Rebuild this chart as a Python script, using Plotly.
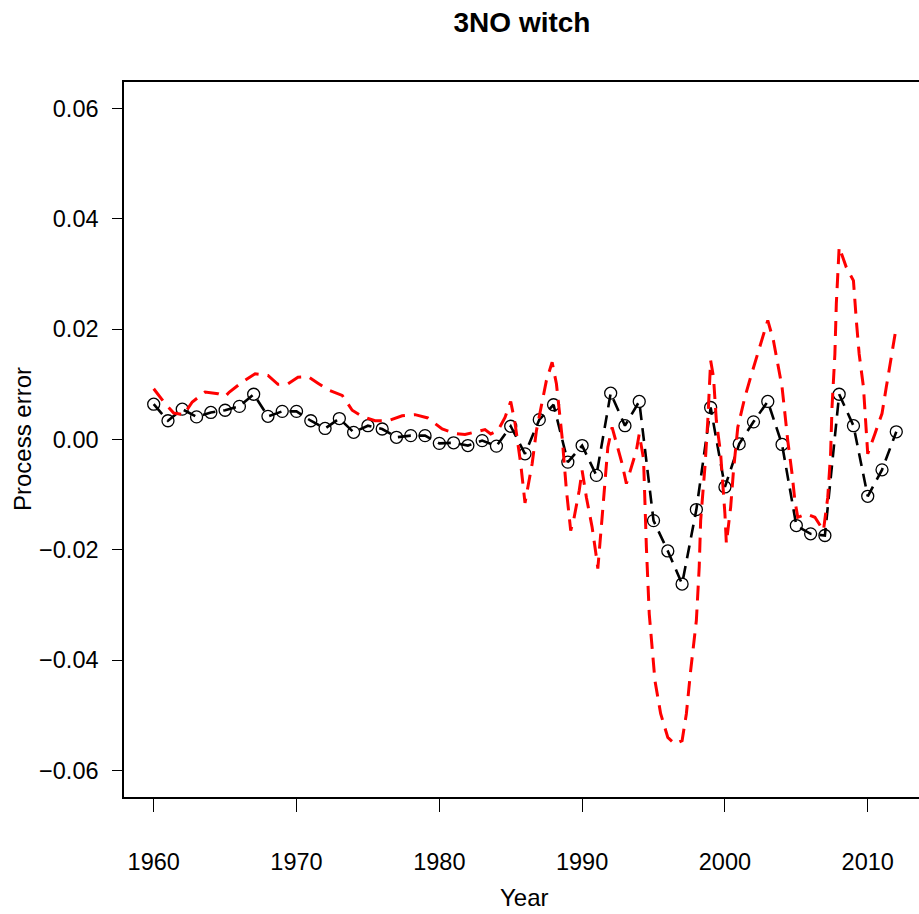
import plotly.graph_objects as go

# Annual process-error estimates (black, with points)
years = list(range(1960, 2013))
annual_error = [
    0.0064, 0.0034, 0.0055, 0.0041, 0.0049, 0.0053, 0.0060, 0.0082, 0.0042, 0.0051,
    0.0051, 0.0034, 0.0020, 0.0038, 0.0013, 0.0025, 0.0019, 0.0004, 0.0007, 0.0007,
    -0.0007, -0.0006, -0.0011, -0.0002, -0.0012, 0.0024, -0.0026, 0.0036, 0.0063, -0.0041,
    -0.0011, -0.0065, 0.0084, 0.0025, 0.0069, -0.0147, -0.0202, -0.0262, -0.0127, 0.0058,
    -0.0086, -0.0008, 0.0032, 0.0069, -0.0009, -0.0156, -0.0171, -0.0174, 0.0082, 0.0025,
    -0.0103, -0.0055, 0.0014,
]

# Finer-resolution process error (red dashed curve)
fine_time = [
    1960.0, 1960.8, 1961.4, 1962.1, 1962.7, 1963.6, 1964.5, 1965.0, 1965.3, 1966.2,
    1967.1, 1968.0, 1968.7, 1969.4, 1970.1, 1970.8, 1971.5, 1972.2, 1973.2, 1973.9,
    1974.6, 1975.5, 1976.4, 1977.4, 1978.3, 1979.2, 1980.2, 1981.1, 1981.8, 1982.5,
    1983.2, 1983.6, 1984.1, 1984.6, 1985.0, 1985.3, 1985.7, 1986.0, 1986.5, 1986.8,
    1987.2, 1987.5, 1987.9, 1988.2, 1988.6, 1988.9, 1989.2, 1989.4, 1989.8, 1990.0,
    1990.3, 1990.7, 1991.0, 1991.1, 1991.4, 1991.6, 1991.8, 1992.1, 1992.4, 1992.8,
    1993.1, 1993.5, 1993.8, 1994.0, 1994.3, 1994.5, 1994.7, 1995.1, 1995.5, 1996.0,
    1996.5, 1997.0, 1997.3, 1997.6, 1998.0, 1998.2, 1998.3, 1998.6, 1998.8, 1999.0,
    1999.2, 1999.4, 1999.7, 2000.0, 2000.1, 2000.4, 2000.6, 2000.9, 2001.4, 2001.8,
    2002.3, 2002.7, 2003.0, 2003.4, 2003.7, 2004.0, 2004.2, 2004.4, 2004.7, 2004.9,
    2005.1, 2005.7, 2006.3, 2006.9, 2007.2, 2007.4, 2007.5, 2007.7, 2007.8, 2008.0,
    2008.5, 2009.0, 2009.2, 2009.4, 2009.7, 2009.9, 2010.0, 2010.5, 2011.0, 2011.3,
    2011.7, 2012.0,
]
fine_error = [
    0.0092, 0.0065, 0.0048, 0.0045, 0.0068, 0.0086, 0.0083, 0.0078, 0.0086, 0.0104,
    0.0119, 0.0116, 0.0100, 0.0101, 0.0113, 0.0114, 0.0102, 0.0090, 0.0080, 0.0053,
    0.0042, 0.0034, 0.0034, 0.0043, 0.0045, 0.0039, 0.0019, 0.0011, 0.0009, 0.0013,
    0.0018, 0.0010, 0.0016, 0.0040, 0.0069, 0.0030, -0.0044, -0.0115, -0.0044, 0.0016,
    0.0071, 0.0107, 0.0140, 0.0101, 0.0004, -0.0092, -0.0165, -0.0147, -0.0092, -0.0056,
    -0.0105, -0.0159, -0.0213, -0.0234, -0.0141, -0.0068, -0.0014, 0.0022, -0.0008, -0.0044,
    -0.0080, -0.0044, -0.0020, 0.0010, -0.0035, -0.0195, -0.0316, -0.0437, -0.0497, -0.0540,
    -0.0552, -0.0546, -0.0497, -0.0419, -0.0328, -0.0231, -0.0147, -0.0050, 0.0034, 0.0143,
    0.0113, 0.0034, -0.0026, -0.0135, -0.0188, -0.0123, -0.0056, 0.0022, 0.0077, 0.0113,
    0.0155, 0.0192, 0.0216, 0.0179, 0.0137, 0.0095, 0.0047, -0.0002, -0.0062, -0.0111,
    -0.0141, -0.0135, -0.0141, -0.0165, -0.0105, -0.0026, 0.0059, 0.0155, 0.0246, 0.0349,
    0.0312, 0.0288, 0.0216, 0.0155, 0.0095, 0.0022, -0.0026, 0.0010, 0.0047, 0.0095,
    0.0155, 0.0204,
]

x_ticks = [1960, 1970, 1980, 1990, 2000, 2010]
y_ticks = [-0.06, -0.04, -0.02, 0.0, 0.02, 0.04, 0.06]
y_tick_text = [f"{v:.2f}".replace("-", "\u2212") for v in y_ticks]

FONT = "Liberation Sans, Arial, Helvetica, sans-serif"
W, H = 919, 914
L, R, T, B = 124, 0, 82, 117

fig = go.Figure()

fig.add_trace(go.Scatter(
    x=years, y=annual_error, mode="lines+markers",
    line=dict(color="black", width=2.6, dash="13px,8px"),
    marker=dict(symbol="circle-open", size=12, color="black", line=dict(width=1.3, color="#222")),
    showlegend=False, hoverinfo="skip",
))

fig.add_trace(go.Scatter(
    x=fine_time, y=fine_error, mode="lines",
    line=dict(color="#ff0000", width=3, dash="15px,9px"),
    showlegend=False, hoverinfo="skip",
))

fig.update_layout(
    width=W, height=H,
    margin=dict(l=L, r=R, t=T, b=B, pad=0),
    paper_bgcolor="white", plot_bgcolor="white",
    font=dict(family=FONT, size=24, color="black"),
    xaxis=dict(
        range=[1957.92, 2013.59], tickvals=x_ticks, ticktext=[str(v) for v in x_ticks],
        showgrid=False, zeroline=False,
        showline=True, linecolor="black", linewidth=1.5, mirror=True,
        ticks="outside", ticklen=13, tickwidth=1.3, tickcolor="black",
        ticklabelstandoff=30,
        tickfont=dict(family=FONT, size=23.5, color="black"),
    ),
    yaxis=dict(
        range=[-0.0648, 0.0648], tickvals=y_ticks, ticktext=y_tick_text,
        showgrid=False, zeroline=False,
        showline=True, linecolor="black", linewidth=1.5, mirror=False,
        ticks="outside", ticklen=10, tickwidth=1.3, tickcolor="black",
        ticklabelstandoff=9,
        tickfont=dict(family=FONT, size=23.5, color="black"),
    ),
    title=dict(
        text="<b>3NO witch</b>", font=dict(family=FONT, size=28, color="black"),
        xref="container", yref="container", x=522 / W, y=1 - 22 / H,
        xanchor="center", yanchor="middle",
    ),
    annotations=[
        dict(text="Year", xref="paper", yref="paper",
             x=(524 - L) / (W - L - R), y=-(897 - (H - B)) / (H - T - B),
             xanchor="center", yanchor="middle", showarrow=False,
             font=dict(family=FONT, size=24, color="black")),
        dict(text="Process error", xref="paper", yref="paper",
             x=-(L - 22) / (W - L - R), y=((H - B) - 439) / (H - T - B),
             xanchor="center", yanchor="middle", textangle=-90, showarrow=False,
             font=dict(family=FONT, size=24, color="black")),
    ],
)

fig.write_html("out.html")
